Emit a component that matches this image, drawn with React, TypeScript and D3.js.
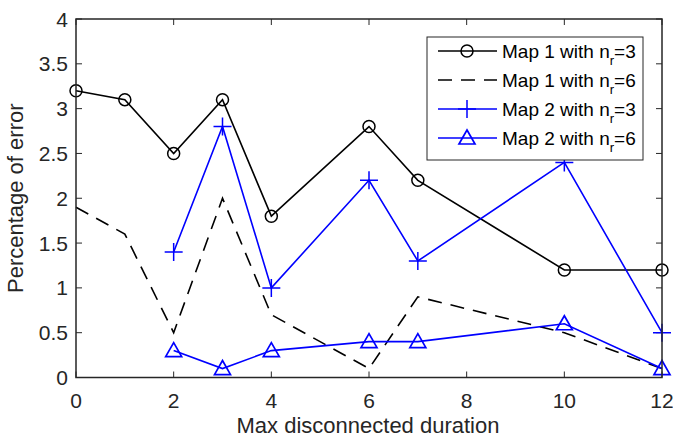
import * as d3 from 'd3';

type Pt = { x: number; y: number };

const xTicks = [0, 2, 4, 6, 8, 10, 12];
const yTicks = [0, 0.5, 1, 1.5, 2, 2.5, 3, 3.5, 4];

const map1r3X = [0, 1, 2, 3, 4, 6, 7, 10, 12];
const map1r3Y = [3.2, 3.1, 2.5, 3.1, 1.8, 2.8, 2.2, 1.2, 1.2];
const map1r6X = [0, 1, 2, 3, 4, 6, 7, 10, 12];
const map1r6Y = [1.9, 1.6, 0.5, 2.0, 0.7, 0.1, 0.9, 0.5, 0.1];
const map2r3X = [2, 3, 4, 6, 7, 10, 12];
const map2r3Y = [1.4, 2.8, 1.0, 2.2, 1.3, 2.4, 0.5];
const map2r6X = [2, 3, 4, 6, 7, 10, 12];
const map2r6Y = [0.3, 0.1, 0.3, 0.4, 0.4, 0.6, 0.1];

const legendMap = ['Map 1', 'Map 1', 'Map 2', 'Map 2'];
const legendNr = ['3', '6', '3', '6'];

const zip = (xs: number[], ys: number[]): Pt[] => xs.map((x, i) => ({ x, y: ys[i] }));

const width = 673;
const height = 438;
const marginLeft = 76;
const marginRight = 11;
const marginTop = 19;
const marginBottom = 60.5;

const axisColor = '#262626';
const font = '"Liberation Sans", Arial, Helvetica, sans-serif';

function Marker({ kind, cx, cy, color }: { kind: string; cx: number; cy: number; color: string }) {
    if (kind === 'circle') {
        return <circle cx={cx} cy={cy} r={6} fill="none" stroke={color} strokeWidth={1.5} />;
    }
    if (kind === 'plus') {
        return (
            <path d={`M${cx - 9},${cy}H${cx + 9}M${cx},${cy - 9}V${cy + 9}`} stroke={color} strokeWidth={1.5} />
        );
    }
    if (kind === 'triangle') {
        return (
            <path d={`M${cx},${cy - 8}L${cx + 8},${cy + 6}L${cx - 8},${cy + 6}Z`} fill="none" stroke={color} strokeWidth={1.7} />
        );
    }
    return null;
}

export default function App() {
    const x = d3.scaleLinear().domain([0, 12]).range([marginLeft, width - marginRight]);
    const y = d3.scaleLinear().domain([0, 4]).range([height - marginBottom, marginTop]);

    const line = d3.line<Pt>().x(d => x(d.x)).y(d => y(d.y));

    const series = [
        { data: zip(map1r3X, map1r3Y), color: 'black', dash: undefined, marker: 'circle' },
        { data: zip(map1r6X, map1r6Y), color: 'black', dash: '14,9', marker: 'none' },
        { data: zip(map2r3X, map2r3Y), color: '#0000ff', dash: undefined, marker: 'plus' },
        { data: zip(map2r6X, map2r6Y), color: '#0000ff', dash: undefined, marker: 'triangle' },
    ];

    const x0 = x(0), x1 = x(12), y0 = y(0), y1 = y(4);

    // legend layout
    const lgLeft = 427, lgTop = 37, lgW = 216, lgH = 123;
    const rowY = [51, 80, 109, 138];

    return (
        <svg width={width} height={height} style={{ position: 'absolute', left: 0, top: 0, background: 'white' }}>
            {/* box ticks */}
            {xTicks.map(t => (
                <g key={'x' + t}>
                    <line x1={x(t)} x2={x(t)} y1={y0} y2={y0 - 6} stroke={axisColor} strokeWidth={1} />
                    <line x1={x(t)} x2={x(t)} y1={y1} y2={y1 + 6} stroke={axisColor} strokeWidth={1} />
                    <text x={x(t)} y={y0 + 30} textAnchor="middle" style={{ font: `21px ${font}`, fill: axisColor }}>
                        {t}
                    </text>
                </g>
            ))}
            {yTicks.map(t => (
                <g key={'y' + t}>
                    <line x1={x0} x2={x0 + 6} y1={y(t)} y2={y(t)} stroke={axisColor} strokeWidth={1} />
                    <line x1={x1} x2={x1 - 6} y1={y(t)} y2={y(t)} stroke={axisColor} strokeWidth={1} />
                    <text x={x0 - 8} y={y(t) + 7.5} textAnchor="end" style={{ font: `21px ${font}`, fill: axisColor }}>
                        {t}
                    </text>
                </g>
            ))}

            {series.map((s, i) => (
                <g key={i}>
                    <path d={line(s.data) || ''} fill="none" stroke={s.color} strokeWidth={1.6} strokeDasharray={s.dash} />
                    {s.data.map((d, j) => (
                        <Marker key={j} kind={s.marker} cx={x(d.x)} cy={y(d.y)} color={s.color} />
                    ))}
                </g>
            ))}

            <rect x={x0} y={y1} width={x1 - x0} height={y0 - y1} fill="none" stroke={axisColor} strokeWidth={1.5} />

            <text x={(x0 + x1) / 2 - 1} y={height - 5} textAnchor="middle" style={{ font: `22px ${font}`, fill: axisColor }}>
                Max disconnected duration
            </text>
            <text
                transform={`translate(23, ${(y0 + y1) / 2}) rotate(-90)`}
                textAnchor="middle"
                style={{ font: `22px ${font}`, fill: axisColor }}
            >
                Percentage of error
            </text>

            {/* legend */}
            <rect x={lgLeft} y={lgTop} width={lgW} height={lgH} fill="white" stroke={axisColor} strokeWidth={1} />
            {series.map((s, i) => (
                <g key={'lg' + i}>
                    <line x1={438} x2={497} y1={rowY[i]} y2={rowY[i]} stroke={s.color} strokeWidth={1.5} strokeDasharray={s.dash} />
                    <Marker kind={s.marker} cx={467} cy={rowY[i]} color={s.color} />
                    <text x={502} y={rowY[i] + 6.5} style={{ font: `19px ${font}`, fill: 'black' }}>
                        {legendMap[i]} with n
                        <tspan dy={7} style={{ fontSize: 13 }}>r</tspan>
                        <tspan dy={-7}>={legendNr[i]}</tspan>
                    </text>
                </g>
            ))}
        </svg>
    );
}
